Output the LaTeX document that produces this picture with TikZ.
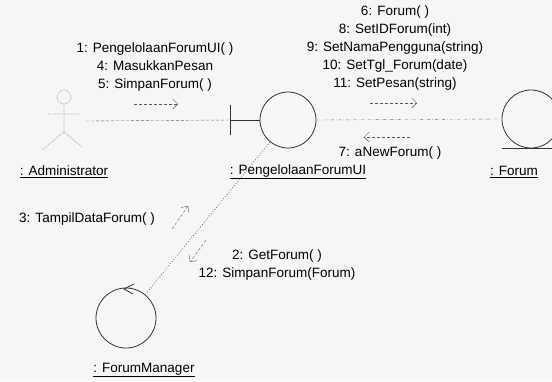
\documentclass[tikz,border=0pt]{standalone}
\usepackage{fontspec}
\setmainfont{Liberation Sans}
\usetikzlibrary{arrows.meta}
\tikzset{
  obj/.style={draw=black!80,thick,circle,inner sep=0pt},
  linkline/.style={gray!80!black,densely dashed},
  msg/.style={gray!70!black,densely dashed,-{Straight Barb[length=5pt,width=10pt]}},
  lbl/.style={font=\fontsize{13.5}{18}\selectfont,align=center,text=black}
}
\begin{document}
\begin{tikzpicture}[x=1pt,y=-1pt]
\fill[gray!7] (0,0) rectangle (552,381);
\useasboundingbox (0,0) rectangle (552,381);
% actor: Administrator
\begin{scope}[gray!70,densely dotted,thick]
\draw (64,97) circle (7);
\draw (64,104)--(64,132) (48,114)--(80,114) (64,132)--(42,150) (64,132)--(82,147);
\end{scope}
\coordinate (adm) at (86,121);
\node[lbl] (admlbl) at (64,172) {\underline{: Administrator}};
% boundary: PengelolaanForumUI
\node[obj,minimum size=56pt] (ui) at (288,120) {};
\coordinate (uibar) at (230,120);
\draw[black!80,thick] (230,105)--(230,135);
\draw[black!80,thick] (uibar)--(ui.west);
\node[lbl] (uilbl) at (298,172) {\underline{: PengelolaanForumUI}};
% entity: Forum
\node[obj,minimum size=58pt] (forum) at (531,119) {};
\draw[black!80,thick] (502,148)--(552,148);
\node[lbl] (forumlbl) at (514,172) {\underline{: Forum}};
% control: ForumManager
\node[obj,minimum size=60pt] (mgr) at (126,318) {};
\draw[black!80,thick] (134,284)--(124,289)--(133,294);
\node[lbl] (mgrlbl) at (144,370) {\underline{: ForumManager}};
% links
\draw[linkline] (adm)--(uibar);
\draw[linkline,dash dot] (ui.east)--(forum.west);
\draw[linkline,dotted,thick] (ui)--(mgr);
% messages
\coordinate (m1a) at (134,104); \coordinate (m1b) at (178,104);
\coordinate (m6a) at (370,103); \coordinate (m6b) at (417,103);
\coordinate (m7a) at (410,137); \coordinate (m7b) at (364,137);
\coordinate (m3a) at (172,229); \coordinate (m3b) at (188,206);
\coordinate (m2a) at (206,240); \coordinate (m2b) at (190,262);
\foreach \a/\b in {m1a/m1b,m6a/m6b,m7a/m7b,m3a/m3b,m2a/m2b} {\draw[msg] (\a)--(\b);}
\node[lbl] (msg1) at (155,67) {1: PengelolaanForumUI( )\\4: MasukkanPesan\\5: SimpanForum( )};
\node[lbl] (msg6) at (395,48) {6: Forum( )\\8: SetIDForum(int)\\9: SetNamaPengguna(string)\\10: SetTgl\_Forum(date)\\11: SetPesan(string)};
\node[lbl] (msg7) at (390,153) {7: aNewForum( )};
\node[lbl] (msg3) at (87,219) {3: TampilDataForum( )};
\node[lbl] (msg2) at (277,265) {2: GetForum( )\\12: SimpanForum(Forum)};
\end{tikzpicture}
\end{document}
